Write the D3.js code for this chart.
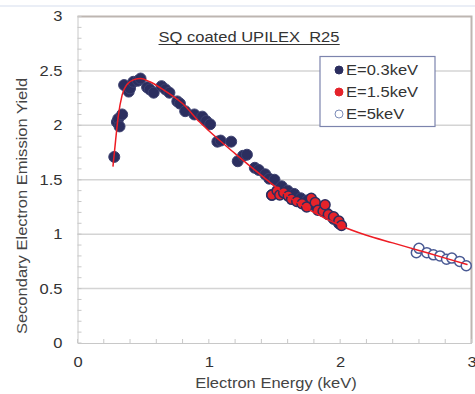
<!DOCTYPE html>
<html><head><meta charset="utf-8">
<script src="https://cdn.jsdelivr.net/npm/d3@7"></script>
<style>body{margin:0;background:#fff}svg{display:block}text{font-family:Arial,"Liberation Sans",sans-serif}</style>
</head><body><svg id="c" width="475" height="394"></svg>
<script>
const title = "SQ coated UPILEX_R25";
const xTicks = [0, 1, 2, 3];
const yTicks = [0, 0.5, 1, 1.5, 2, 2.5, 3];
const seriesNames = ["E=0.3keV", "E=1.5keV", "E=5keV"];
const lowE = [[0.28,1.71],[0.30,2.03],[0.31,2.06],[0.32,1.99],[0.34,2.10],[0.355,2.37],[0.39,2.31],[0.40,2.34],[0.425,2.40],[0.46,2.41],[0.48,2.43],[0.53,2.35],[0.55,2.33],[0.58,2.30],[0.64,2.36],[0.67,2.33],[0.70,2.30],[0.76,2.22],[0.78,2.20],[0.82,2.13],[0.89,2.10],[0.95,2.08],[0.98,2.04],[1.01,2.01],[1.065,1.85],[1.09,1.86],[1.17,1.85],[1.22,1.67],[1.26,1.72],[1.29,1.73],[1.35,1.61],[1.38,1.59],[1.43,1.55],[1.46,1.51],[1.50,1.50],[1.48,1.36],[1.555,1.44],[1.60,1.40],[1.65,1.37],[1.70,1.33],[1.75,1.31],[1.80,1.27],[1.85,1.24],[1.90,1.19],[1.95,1.14],[1.99,1.10]];
const midE = [[1.48,1.36],[1.52,1.40],[1.54,1.36],[1.57,1.38],[1.605,1.35],[1.63,1.32],[1.67,1.30],[1.71,1.28],[1.745,1.25],[1.78,1.33],[1.81,1.29],[1.83,1.22],[1.87,1.21],[1.885,1.27],[1.91,1.18],[1.95,1.16],[1.99,1.12],[2.01,1.08]];
const highE = [[2.58,0.83],[2.60,0.87],[2.66,0.83],[2.71,0.81],[2.76,0.80],[2.81,0.77],[2.85,0.78],[2.91,0.75],[2.96,0.71]];
const fitCurve = [[0.27,1.62],[0.29,1.86],[0.31,2.08],[0.34,2.28],[0.38,2.38],[0.43,2.42],[0.48,2.43],[0.55,2.40],[0.65,2.33],[0.8,2.20],[0.93,2.03],[1.0,1.95],[1.2,1.74],[1.4,1.54],[1.6,1.35],[1.8,1.20],[2.0,1.08],[2.2,0.99],[2.4,0.92],[2.6,0.85],[2.8,0.78],[2.97,0.72]];

const STRETCH = 1.18;
function stretch(sel){ sel.each(function(){ const w=this.getComputedTextLength(); d3.select(this).attr("textLength",w*STRETCH).attr("lengthAdjust","spacingAndGlyphs"); }); }

const svg = d3.select("#c");
const L = 77.5, R = 471.5, T = 16.5, B = 343;
const x = d3.scaleLinear().domain([0,3]).range([L,R]);
const y = d3.scaleLinear().domain([0,3]).range([B,T]);

svg.append("line").attr("x1",0).attr("x2",475).attr("y1",6).attr("y2",6).attr("stroke","#e3e9f3").attr("stroke-width",1.5);

// gridlines
svg.append("g").selectAll("line").data(yTicks.filter(d=>d>0&&d<3)).join("line")
  .attr("x1",L).attr("x2",R).attr("y1",d=>y(d)).attr("y2",d=>y(d))
  .attr("stroke","#d4d4d4").attr("stroke-width",1.5);

// frame top/right
svg.append("path").attr("d",`M${L},${T}H${R}V${B}`).attr("fill","none").attr("stroke","#bdb6b1").attr("stroke-width",2);

// axes
const yAxis = d3.axisLeft(y).tickValues(yTicks).tickSize(0).tickPadding(15).tickFormat(d3.format("~g"));
const gy = svg.append("g").attr("transform",`translate(${L},0)`).call(yAxis);
gy.select(".domain").attr("stroke","#c8c8c8");
gy.selectAll("text").attr("font-size",14).attr("fill","#333").call(stretch);
svg.append("g").selectAll("line").data(d3.range(0,3.01,0.1)).join("line")
  .attr("x1",L).attr("x2",L+4).attr("y1",d=>y(d)).attr("y2",d=>y(d)).attr("stroke","#c8c8c8");

const xAxis = d3.axisBottom(x).tickValues(xTicks).tickSize(0).tickPadding(14).tickFormat(d3.format("~g"));
const gx = svg.append("g").attr("transform",`translate(0,${B})`).call(xAxis);
gx.select(".domain").attr("stroke","#c8c8c8");
gx.selectAll("text").attr("font-size",14).attr("fill","#333").call(stretch);
svg.append("g").selectAll("line").data(d3.range(0,3.01,0.2)).join("line")
  .attr("x1",d=>x(d)).attr("x2",d=>x(d)).attr("y1",B).attr("y2",B-4).attr("stroke","#c8c8c8");

// axis titles
svg.append("text").attr("x",276).attr("y",388).attr("text-anchor","middle").attr("font-size",14).attr("fill","#444").text("Electron Energy (keV)").call(stretch);
svg.append("text").attr("transform",`translate(27,206) rotate(-90)`).attr("text-anchor","middle").attr("font-size",14).attr("fill","#444").text("Secondary Electron Emission Yield").call(stretch);

// title
const tt = svg.append("text").attr("x",249).attr("y",42).attr("text-anchor","middle").attr("font-size",14).attr("fill","#333").text(title).call(stretch);
const bb = tt.node().getBBox();
svg.append("line").attr("x1",bb.x).attr("x2",bb.x+bb.width).attr("y1",44.5).attr("y2",44.5).attr("stroke","#333").attr("stroke-width",1.2);

// points
const navy = "#2b2e5f";
svg.append("g").selectAll("circle").data(lowE).join("circle")
  .attr("cx",d=>x(d[0])).attr("cy",d=>y(d[1])).attr("r",5.5).attr("fill",navy).attr("stroke","#3d4170").attr("stroke-width",1);
svg.append("g").selectAll("circle").data(midE).join("circle")
  .attr("cx",d=>x(d[0])).attr("cy",d=>y(d[1])).attr("r",5).attr("fill","#e5232a").attr("stroke",navy).attr("stroke-width",1.5);
svg.append("g").selectAll("circle").data(highE).join("circle")
  .attr("cx",d=>x(d[0])).attr("cy",d=>y(d[1])).attr("r",5).attr("fill","#fff").attr("stroke","#4a5a94").attr("stroke-width",1.5);

// fit line
svg.append("path").datum(fitCurve).attr("fill","none").attr("stroke","#ee1c24").attr("stroke-width",1.5)
  .attr("d",d3.line().x(d=>x(d[0])).y(d=>y(d[1])).curve(d3.curveMonotoneX));

// legend
const lg = svg.append("g");
lg.append("rect").attr("x",320).attr("y",56.5).attr("width",115).attr("height",70).attr("fill","#fff").attr("stroke","#7c84ad").attr("stroke-width",1.2);
const legFill = [navy,"#e5232a","#fff"], legStroke = [navy,"#e5232a","#7c8cb8"];
seriesNames.forEach((s,i)=>{
  const cy = 70 + i*22;
  lg.append("circle").attr("cx",339).attr("cy",cy).attr("r",4).attr("fill",legFill[i]).attr("stroke",legStroke[i]).attr("stroke-width",1);
  lg.append("text").attr("x",346).attr("y",cy+5).attr("font-size",14).attr("fill","#333").text(s).call(stretch);
});
</script></body></html>
